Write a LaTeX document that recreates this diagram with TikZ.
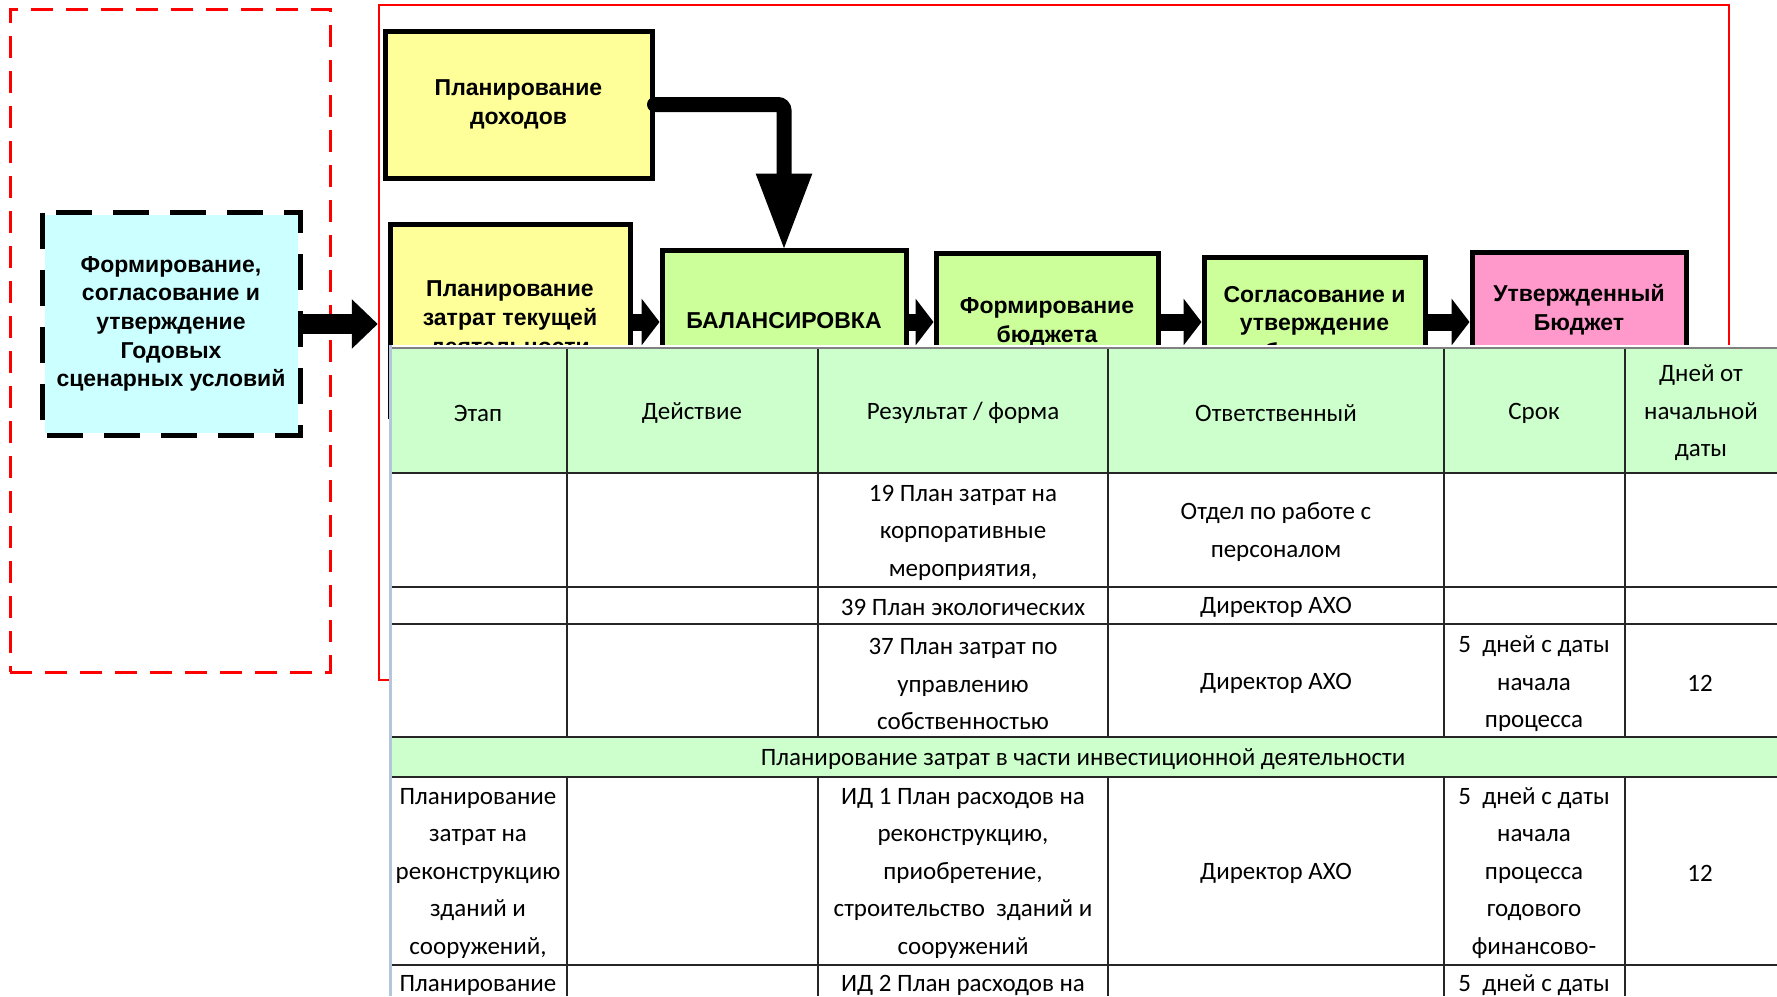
\documentclass[tikz,border=0pt]{standalone}
\usepackage{fontspec}
\setmainfont{Liberation Sans}
\newfontfamily\tabfont{Carlito}
\usetikzlibrary{arrows.meta}
\definecolor{yel}{HTML}{FFFF99}
\definecolor{grn}{HTML}{CCFF99}
\definecolor{pnk}{HTML}{FF99CC}
\definecolor{cyn}{HTML}{CCFFFF}
\definecolor{hdr}{HTML}{CCFFCC}
\definecolor{gridc}{HTML}{262626}
\definecolor{edgeblue}{HTML}{B4C6DC}
\tikzset{
  box/.style={draw=black, line width=5pt, inner sep=0pt, align=center,
    font=\fontsize{23}{28.7}\selectfont\bfseries},
  groupframe/.style={draw=red, line width=2.5pt, inner sep=0pt},
  scenframe/.style={draw=red, line width=3pt, dash pattern=on 22pt off 13pt, inner sep=0pt},
  flowarrow/.style={line width=17pt, -{Triangle[length=18pt,width=46pt]}},
  bigarrow/.style={line width=20pt, -{Triangle[length=26pt,width=48pt]}},
  cell/.style={inner sep=0pt, align=center, font=\tabfont\fontsize{25}{37.5}\selectfont},
  gridline/.style={draw=gridc, line width=2.5pt},
}
\begin{document}
\begin{tikzpicture}[x=1pt,y=-1pt]
\useasboundingbox (0,0) rectangle (1777,996);
\fill[white] (0,0) rectangle (1777,996);

% frames
\node[scenframe, minimum width=320pt, minimum height=663pt] (scen) at (170,340.5) {};
\node[groupframe, minimum width=1350pt, minimum height=675pt] (grp) at (1054,342.5) {};

% boxes
\node[box, fill=cyn, draw=none, minimum width=253pt, minimum height=218pt] (cyan) at (171,324)
  {Формирование,\\согласование и\\утверждение\\Годовых\\сценарных условий};
\draw[line width=5pt, dash pattern=on 36pt off 21pt] (cyan.north west) rectangle (cyan.south east);

\node[box, fill=yel, minimum width=267pt, minimum height=147pt] (doh) at (518.5,104.5) {Планирование\\доходов};
\node[box, fill=yel, minimum width=240pt, minimum height=192pt] (yel2) at (510,320) {Планирование\\затрат текущей\\деятельности};
\node[box, fill=grn, minimum width=244pt, minimum height=142pt] (bal) at (784,321) {БАЛАНСИРОВКА};
\node[box, fill=grn, minimum width=222pt, minimum height=139pt] (form) at (1047,322.5) {Формирование\\бюджета};
\node[box, fill=grn, minimum width=221pt, minimum height=136pt] (sogl) at (1314.5,325) {Согласование и\\утверждение\\бюджета};
\node[box, fill=pnk, minimum width=214pt, minimum height=116pt] (utv) at (1579,310) {Утвержденный\\Бюджет};

% connectors
\coordinate (ay) at (0,322);
\draw[bigarrow] (cyan.east) -- (cyan.east -| grp.west);
\draw[line width=15pt, line cap=round, rounded corners=6pt, shorten >=-3pt, -{Triangle[length=77pt,width=52pt]}] (doh.east) -| (bal.north);
\draw[flowarrow] (yel2.east |- ay) -- (bal.west |- ay);
\draw[flowarrow] (bal.east |- ay) -- (form.west |- ay);
\draw[flowarrow] (form.east |- ay) -- (sogl.west |- ay);
\draw[flowarrow] (sogl.east |- ay) -- (utv.west |- ay);

% table
\fill[white] (389,345) rectangle (1777,996);
\fill[hdr] (391,349) rectangle (1777,473);
\fill[hdr] (391,737) rectangle (1777,777);
\draw[gray, line width=2pt] (389,348) -- (1777,348);
\draw[edgeblue, line width=3pt] (390.5,345) -- (390.5,996);
\foreach \yy in {473,587,624,737,777,965} \draw[gridline] (392,\yy) -- (1777,\yy);
\foreach \xx in {567,818,1108,1444,1625} {
  \draw[gridc, line width=2pt] (\xx,349) -- (\xx,737);
  \draw[gridc, line width=2pt] (\xx,777) -- (\xx,996);
}

\node[cell] (h1) at (478,413) {Этап};
\node[cell] (h2) at (692,413) {Действие};
\node[cell] (h3) at (963,413) {Результат / форма};
\node[cell] (h4) at (1276,413) {Ответственный};
\node[cell] (h5) at (1534,413) {Срок};
\node[cell] (h6) at (1701,413) {Дней от\\начальной\\даты};

\node[cell] (r1c3) at (963,532.5) {19 План затрат на\\корпоративные\\мероприятия,};
\node[cell] (r1c4) at (1276,532) {Отдел по работе с\\персоналом};

\node[cell] (r2c3) at (963,607) {39 План экологических};
\node[cell] (r2c4) at (1276,607) {Директор АХО};

\node[cell] (r3c3) at (963,684) {37 План затрат по\\управлению\\собственностью};
\node[cell] (r3c4) at (1276,683) {Директор АХО};
\node[cell] (r3c5) at (1534,684) {5~~дней с даты\\начала\\процесса};
\node[cell] (r3c6) at (1700,683) {12};

\node[cell] (sec) at (1083,759) {Планирование затрат в части инвестиционной деятельности};

\node[cell] (r4c1) at (478,873) {Планирование\\затрат на\\реконструкцию\\зданий и\\сооружений,};
\node[cell] (r4c3) at (963,873) {ИД 1 План расходов на\\реконструкцию,\\приобретение,\\строительство~~зданий и\\сооружений};
\node[cell] (r4c4) at (1276,873) {Директор АХО};
\node[cell] (r4c5) at (1534,873) {5~~дней с даты\\начала\\процесса\\годового\\финансово-};
\node[cell] (r4c6) at (1700,873) {12};

\node[cell] (r5c1) at (478,985) {Планирование};
\node[cell] (r5c3) at (963,985) {ИД 2 План расходов на};
\node[cell] (r5c5) at (1534,985) {5~~дней с даты};
\end{tikzpicture}
\end{document}
